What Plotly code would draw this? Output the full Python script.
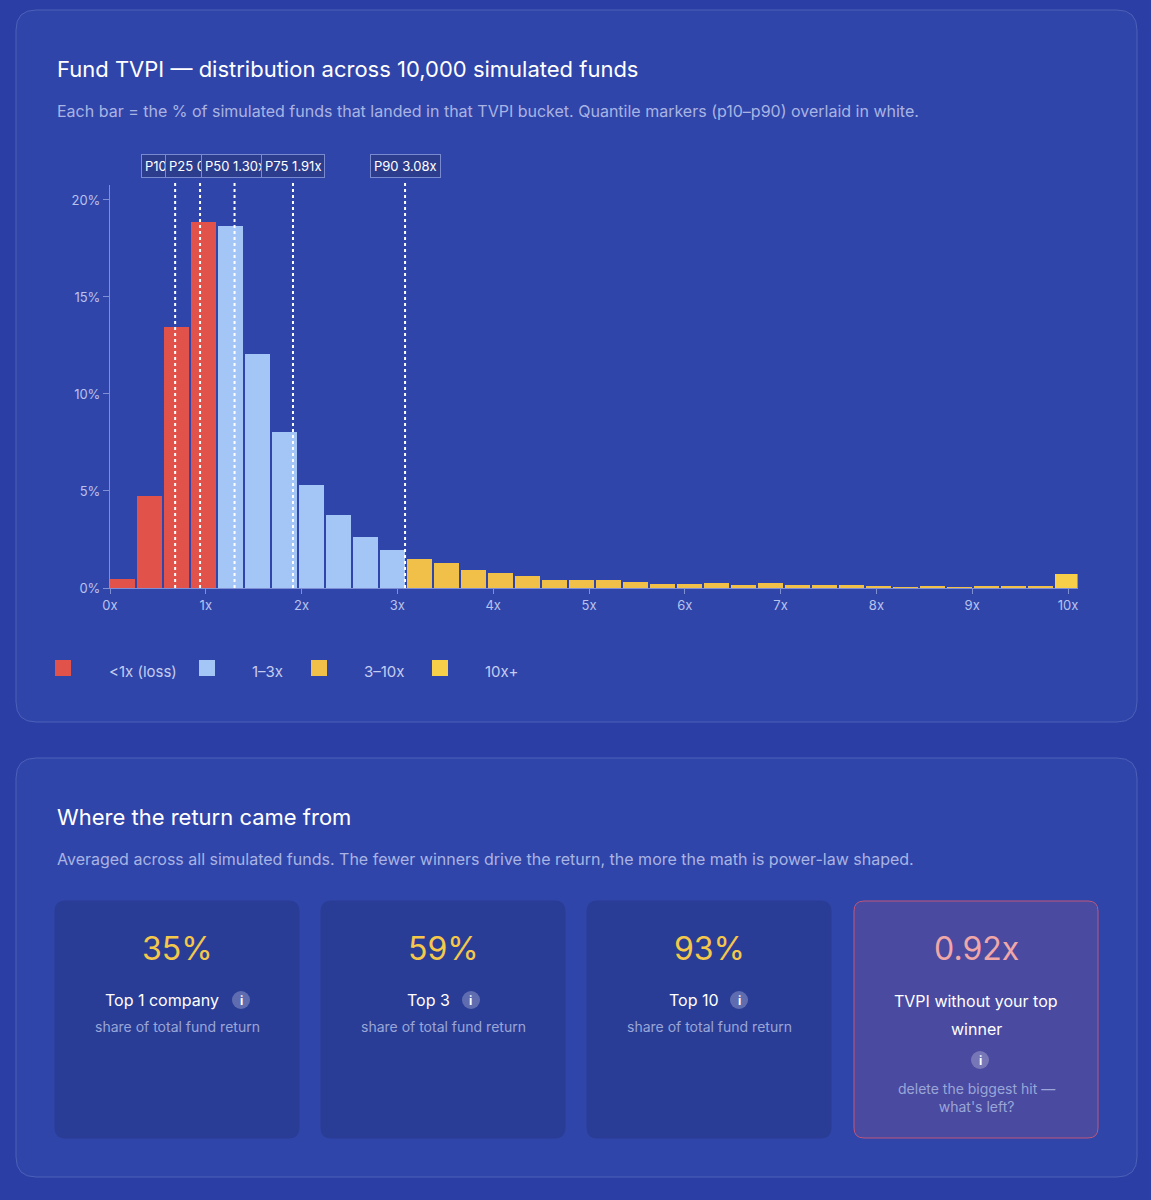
import plotly.graph_objects as go

W, H = 1151, 1200

# bucket heights (% of funds), 36 buckets left to right
pct = [0.46, 4.74, 13.45, 18.87, 18.66, 12.06, 8.04, 5.31, 3.76, 2.63, 1.96,
       1.49, 1.29, 0.93, 0.77, 0.62, 0.41, 0.41, 0.41, 0.31, 0.21, 0.21, 0.26,
       0.15, 0.26, 0.15, 0.15, 0.15, 0.10, 0.05, 0.10, 0.05, 0.10, 0.10, 0.10, 0.72]
groups = ["loss"] * 4 + ["mid"] * 7 + ["high"] * 24 + ["top"]
bucket_w = 0.2818
quant_names = ["P10", "P25", "P50", "P75", "P90"]
quant_vals = [0.68, 0.94, 1.30, 1.91, 3.08]
legend_labels = ["<1x (loss)", "1–3x", "3–10x", "10x+"]
card_values = ["35%", "59%", "93%", "0.92x"]
card_titles = ["Top 1 company", "Top 3", "Top 10", "TVPI without your top<br>winner"]
card_subs = ["share of total fund return"] * 3 + ["delete the biggest hit —<br>what's left?"]

colors = {"loss": "#e0524a", "mid": "#a3c6f7", "high": "#f0c048", "top": "#f7cf48"}
BG = "#2a3ea6"
CARD = "#3045a9"
MUTED = "#a9b4e4"


def px(x):
    return x / W


def py(y):
    return 1 - y / H


def rrect(x0, y0, x1, y1, r, fill, line):
    x0, x1, y0, y1 = px(x0), px(x1), py(y0), py(y1)
    rx, ry = r / W, r / H
    path = (f"M{x0+rx},{y0} L{x1-rx},{y0} Q{x1},{y0} {x1},{y0-ry} "
            f"L{x1},{y1+ry} Q{x1},{y1} {x1-rx},{y1} L{x0+rx},{y1} "
            f"Q{x0},{y1} {x0},{y1+ry} L{x0},{y0-ry} Q{x0},{y0} {x0+rx},{y0} Z")
    return dict(type="path", xref="paper", yref="paper", path=path,
                fillcolor=fill, line=dict(color=line, width=1), layer="below")


fig = go.Figure()
centers = [0.13 + i * bucket_w for i in range(len(pct))]
fig.add_trace(go.Bar(x=centers, y=pct, width=0.26,
                     marker=dict(color=[colors[g] for g in groups], line_width=0),
                     showlegend=False))

shapes = [rrect(16, 10, 1137, 722, 20, CARD, "#4d60b8"),
          rrect(16, 758, 1137, 1177, 20, CARD, "#4d60b8")]
ann = []

# quantile markers; later labels sit on top of earlier ones, as in the source
for name, v in zip(quant_names, quant_vals):
    shapes.append(dict(type="line", xref="x", yref="paper", x0=v, x1=v,
                       y0=py(588), y1=py(180),
                       line=dict(color="white", width=2, dash="dot")))
    ann.append(dict(x=v, y=py(166), xref="x", text=f"{name} {v:.2f}x",
                    font=dict(size=13, color="white"),
                    bgcolor="#2c3d8e", bordercolor="#7a8ad0", borderwidth=1, borderpad=3))

heads = [
    dict(x=px(55), y=py(69), text="Fund TVPI — distribution across 10,000 simulated funds",
         font=dict(size=22, color="white")),
    dict(x=px(55), y=py(111), text="Each bar = the % of simulated funds that landed in that TVPI bucket. Quantile markers (p10–p90) overlaid in white.",
         font=dict(size=16, color=MUTED)),
    dict(x=px(55), y=py(817), text="Where the return came from", font=dict(size=22, color="white")),
    dict(x=px(55), y=py(859), text="Averaged across all simulated funds. The fewer winners drive the return, the more the math is power-law shaped.",
         font=dict(size=16, color=MUTED)),
]
for a in heads:
    a["xanchor"] = "left"
ann += heads

# custom legend
leg_sq = [55, 199, 311, 432]
leg_tx = [107, 250, 362, 483]
for lab, sx, tx, key in zip(legend_labels, leg_sq, leg_tx, ["loss", "mid", "high", "top"]):
    shapes.append(dict(type="rect", xref="paper", yref="paper", x0=px(sx), x1=px(sx + 16),
                       y0=py(676), y1=py(660), fillcolor=colors[key], line_width=0))
    ann.append(dict(x=px(tx), y=py(671), xanchor="left",
                    text=lab, font=dict(size=15, color="#c4cdf0")))

# stat cards
card_x = [55, 321, 587, 854]
icon_dx = [186, 150, 152, 126]
for i, cx in enumerate(card_x):
    last = i == 3
    shapes.append(rrect(cx, 901, cx + 244, 1138, 10,
                        "#4a4aa0" if last else "#2a3d96",
                        "#c0567a" if last else "#2a3d96"))
    mid = px(cx + 122)
    ann.append(dict(x=mid, y=py(948), text=card_values[i],
                    font=dict(size=32, color="#f0a7a8" if last else "#f5c84a")))
    if last:
        ann.append(dict(x=mid, y=py(1001), text="TVPI without your top",
                        font=dict(size=16, color="white")))
        ann.append(dict(x=mid, y=py(1029), text="winner",
                        font=dict(size=16, color="white")))
        iy = 1060
        ann.append(dict(x=mid, y=py(1097), text=card_subs[i],
                        font=dict(size=14, color="#9aa6d8")))
    else:
        ann.append(dict(x=px(cx + 107), y=py(1000), text=card_titles[i],
                        font=dict(size=16, color="white")))
        ann.append(dict(x=mid, y=py(1026), text=card_subs[i],
                        font=dict(size=14, color="#9aa6d8")))
        iy = 1000
    ix = cx + icon_dx[i]
    shapes.append(dict(type="circle", xref="paper", yref="paper", x0=px(ix - 9), x1=px(ix + 9),
                       y0=py(iy + 9), y1=py(iy - 9), fillcolor="rgba(255,255,255,0.25)", line_width=0))
    ann.append(dict(x=px(ix), y=py(iy), text="<b>i</b>", font=dict(size=12, color="white")))

for a in ann:
    a.setdefault("xref", "paper")
    a.setdefault("yref", "paper")
    a.setdefault("xanchor", "center")
    a.setdefault("yanchor", "middle")
    a["showarrow"] = False

axis_font = dict(size=13, color="#b8c2ee")
fig.update_layout(
    width=W, height=H, margin=dict(l=0, r=0, t=0, b=0, autoexpand=False),
    paper_bgcolor=BG, plot_bgcolor="rgba(0,0,0,0)",
    font=dict(family="Inter, Roboto, sans-serif"),
    shapes=shapes, annotations=ann, bargap=0,
    xaxis=dict(domain=[px(110), px(110 + 10.1 * 95.8)], range=[0, 10.1],
               tickvals=list(range(11)), ticktext=[f"{i}x" for i in range(11)],
               showgrid=False, zeroline=False, showline=True, linecolor="#7f8fd6",
               ticks="outside", ticklen=5, tickcolor="#7f8fd6", tickfont=axis_font),
    yaxis=dict(domain=[py(588), py(185)], range=[0, 20.77],
               tickvals=[0, 5, 10, 15, 20], ticktext=["0%", "5%", "10%", "15%", "20%"],
               showgrid=False, zeroline=False, showline=True, linecolor="#7f8fd6",
               ticks="outside", ticklen=6, tickcolor="#7f8fd6", tickfont=axis_font),
)

fig.write_html("out.html", config={"displayModeBar": False},
               post_script="document.body.style.margin='0';")
